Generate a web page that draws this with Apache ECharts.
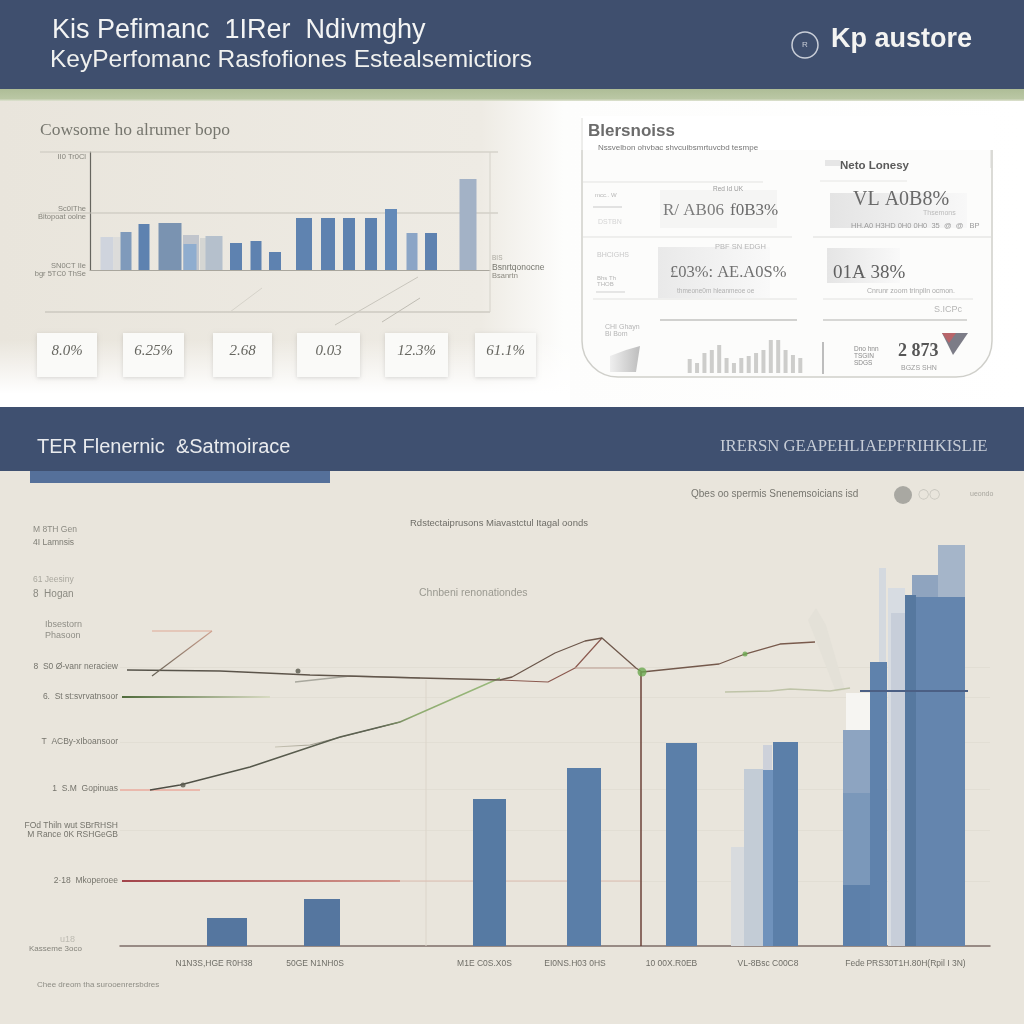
<!DOCTYPE html>
<html>
<head>
<meta charset="utf-8">
<title>KPI dashboard</title>
<script src="https://cdn.jsdelivr.net/npm/echarts@6/dist/echarts.min.js"></script>
<style>
  html, body { margin: 0; padding: 0; background: #e9e5dc; }
  #chart { width: 1024px; height: 1024px; }
</style>
</head>
<body>
<div id="chart"></div>
<script>
// upper left bars
const upperPeriods = [1.7, 2.7, 3.6, 5.4, 8.0, 10.1, 10.0, 11.3, 12.4, 14.6, 16.6, 18.5, 21.4, 23.8, 25.9, 28.1, 30.1, 32.2, 34.1, 37.8];
const upperValues = [33, 33, 38, 46, 47, 35, 26, 32, 34, 27, 29, 18, 52, 52, 52, 52, 61, 37, 37, 91];
const upperSpans = [1.3, 0.7, 1.1, 1.1, 2.3, 1.6, 1.3, 0.6, 1.7, 1.2, 1.1, 1.2, 1.6, 1.4, 1.2, 1.2, 1.2, 1.1, 1.2, 1.7];
const upperTicks = [0, 57, 113];
const upperTickLabels = ['SN0CT IIe\nbgr 5TC0 ThSe', 'Sc0IThe\nBitopoat oolne', 'II0 Tr0Cl'];

// small bars inside the right panel
const miniValues = [14, 10, 20, 23, 28, 15, 10, 15, 17, 20, 23, 33, 37, 23, 18, 15];
const miniCategories = miniValues.map((v, i) => 'm' + i);

// lower chart bars, drawn back to front
const lowerPeriods = [10.7, 20.2, 36.95, 46.4, 56.15, 61.8, 63.35, 64.75, 64.8, 66.55, 76.25, 77.65, 77.8, 75.85, 73.65, 73.65, 73.65, 80.5, 83.15, 79.05, 82.05];
const lowerValues = [28, 47, 147, 178, 203, 99, 177, 201, 176, 204, 378, 358, 333, 284, 216, 153, 61, 371, 401, 351, 349];
const lowerSpans = [4.0, 3.6, 3.3, 3.4, 3.1, 1.4, 1.9, 0.9, 1.0, 2.5, 0.7, 1.7, 1.4, 1.7, 2.7, 2.7, 2.7, 2.6, 2.7, 1.1, 4.9];
const lowerTicks = [279, 249, 204, 157, 116, 65];
const lowerTickLabels = ['8  S0 Ø-vanr neraciew', '6.  St st:svrvatnsoor', 'T  ACBy-xIboansoor', '1  S.M  Gopinuas', 'FOd Thiln wut SBrRHSH\nM Rance 0K RSHGeGB', '2·18  Mkoperoee'];
const lowerLabelSpots = [9.4, 19.5, 36.45, 45.5, 55.15, 64.8, 73.5, 79.6];
const lowerCategories = ['N1N3S,HGE R0H38', '50GE N1NH0S', 'M1E C0S.X0S', 'EI0NS.H03 0HS', '10 00X.R0EB', 'VL-8Bsc C00C8', 'Fede', 'PRS30T1H.80H(Rpil I 3N)'];

// lower chart lines
const mainLineX = [0.7, 10, 19, 30, 38, 39.2, 43.5, 46.5, 48.2, 51.6, 52.2, 59.9, 62.5, 66, 69.5];
const mainLineY = [276, 275, 271, 268, 266, 269, 293, 305, 308, 278, 274, 282, 292, 302, 304];
const riseLineX = [3, 6, 13, 22, 28, 30.5, 38];
const riseLineY = [156, 161, 179, 209, 224, 235, 268];
const dipLineX = [38, 42.8, 45.5, 48.2];
const dipLineY = [266, 264, 278, 308];
const shelfLineX = [45.5, 51.6];
const shelfLineY = [278, 278];
const branchLineX = [15.5, 19, 22.5, 28];
const branchLineY = [199, 201, 210, 224];
const echoLineX = [17.5, 23, 30];
const echoLineY = [264, 270, 268];
const spikeLineX = [3.2, 9.2];
const spikeLineY = [270, 315];
const capLineX = [3.2, 9.2];
const capLineY = [315, 315];
const greenRuleX = [0.2, 15];
const greenRuleY = [249, 249];
const redRuleX = [0.2, 28];
const redRuleY = [65, 65];
const redFaintX = [28, 52];
const redFaintY = [65, 65];
const pinkRuleX = [0, 8];
const pinkRuleY = [156, 156];
const noiseLineX = [60.5, 65, 67, 71, 73];
const noiseLineY = [254, 255, 257, 255, 258];
const blueRuleX = [74, 84.8];
const blueRuleY = [255, 255];
const dropLineX = [52.1, 52.1];
const dropLineY = [274, 0];
const guideLineX = [30.6, 30.6];
const guideLineY = [266, 0];
const markerX = [52.2, 62.5, 6.3, 17.8];
const markerY = [274, 292, 161, 275];

const kpiValues = ['8.0%', '6.25%', '2.68', '0.03', '12.3%', '61.1%'];

const upperFills = ['#cfd4dd', '#dcdcda', '#7f9abb', '#5e82b0', '#7a93b1', '#c1c5cc', '#8fadcf', '#d5d6d3', '#b5c0cc', '#5e82b0', '#5e82b0', '#5e82b0', '#5f83b0', '#5e82b0', '#5e82b0', '#5e82b0', '#648ab8', '#8ba5c6', '#5e82b0', '#a3b2c6'];
const lowerFills = ['#55769f', '#55769f', '#567aa3', '#5a7ea8', '#5b7fa9', '#d8dbde', '#c3ccd6', '#cdd1da', '#6f92bc', '#5b7fa9', '#d4d9df', '#d7dce2', '#c7ced9', '#5f82ac', '#8da4c1', '#7b98ba', '#5d80aa', '#8fa4bf', '#a5b5c9', '#56789f', '#6485ae'];

function spanBars(name, axisIndex, xs, values, spans, fills) {
  return {
    name: name,
    type: 'custom',
    xAxisIndex: axisIndex,
    yAxisIndex: axisIndex,
    z: 2,
    data: xs.map((x, i) => [x, values[i], spans[i]]),
    encode: { x: 0, y: 1 },
    renderItem: function (params, api) {
      const half = api.value(2) / 2;
      const a = api.coord([api.value(0) - half, api.value(1)]);
      const b = api.coord([api.value(0) + half, 0]);
      return {
        type: 'rect',
        shape: { x: a[0], y: a[1], width: b[0] - a[0], height: b[1] - a[1] },
        style: { fill: fills[params.dataIndex] }
      };
    }
  };
}

function plotLine(xs, ys, color, width, z) {
  return {
    type: 'line',
    xAxisIndex: 2,
    yAxisIndex: 2,
    data: xs.map((x, i) => [x, ys[i]]),
    showSymbol: false,
    silent: true,
    z: z || 4,
    lineStyle: { color: color, width: width }
  };
}

function fade(from, to) {
  return new echarts.graphic.LinearGradient(0, 0, 1, 0, [
    { offset: 0, color: from },
    { offset: 1, color: to }
  ]);
}

const riseFill = new echarts.graphic.LinearGradient(0, 0, 1, 0, [
  { offset: 0, color: '#4d4c44' },
  { offset: 0.65, color: '#5e6452' },
  { offset: 0.75, color: '#8fab70' },
  { offset: 1, color: '#9abb7c' }
]);

// page furniture
const box = (x, y, w, h, fill, extra) => Object.assign({ type: 'rect', shape: { x: x, y: y, width: w, height: h }, style: { fill: fill }, z: 0 }, extra || {});
const rule = (x1, y1, x2, y2, color, w) => ({ type: 'line', shape: { x1: x1, y1: y1, x2: x2, y2: y2 }, style: { stroke: color, lineWidth: w || 1 }, z: 1 });
const label = (x, y, text, size, color, extra) => ({
  type: 'text', x: x, y: y, z: 20,
  style: Object.assign({ text: text, fontSize: size, fill: color, fontFamily: 'Liberation Sans', verticalAlign: 'middle' }, extra || {})
});

const graphics = [
  box(0, 0, 1024, 1024, '#e9e5dc'),
  box(0, 101, 1024, 306, new echarts.graphic.LinearGradient(0, 0, 1, 0, [
    { offset: 0, color: '#e9e5dc' },
    { offset: 0.47, color: '#eeebe4' },
    { offset: 0.55, color: '#fdfdfc' },
    { offset: 1, color: '#ffffff' }
  ])),
  box(0, 340, 570, 67, new echarts.graphic.LinearGradient(0, 0, 0, 1, [
    { offset: 0, color: 'rgba(255,255,255,0)' },
    { offset: 0.8, color: 'rgba(255,255,255,1)' },
    { offset: 1, color: 'rgba(255,255,255,1)' }
  ])),
  box(0, 0, 1024, 89, '#3f4f6e'),
  box(0, 89, 1024, 12, new echarts.graphic.LinearGradient(0, 0, 0, 1, [
    { offset: 0, color: '#aebd97' },
    { offset: 0.8, color: '#bac7a4' },
    { offset: 1, color: '#dfe3d2' }
  ])),
  box(0, 407, 1024, 64, '#3f5070'),
  box(30, 471, 300, 12, '#55709a'),

  // header
  label(52, 31, 'Kis Pefimanc  1IRer  Ndivmghy', 27, '#f3f4f4'),
  label(50, 60, 'KeyPerfomanc Rasfofiones Estealsemictiors', 24.5, '#f0f1ef'),
  { type: 'circle', shape: { cx: 805, cy: 45, r: 13 }, style: { fill: 'none', stroke: '#c9ced8', lineWidth: 1.5 }, z: 5 },
  label(805, 45, 'R', 8, '#c9ced8', { textAlign: 'center' }),
  label(831, 40, 'Kp austore', 27, '#f4f4f2', { fontWeight: 'bold' }),

  // upper left frame
  label(40, 130, 'Cowsome ho alrumer bopo', 17.5, '#77776f', { fontFamily: 'Liberation Serif' }),
  rule(40, 152, 498, 152, '#c9c6bd'),
  rule(40, 213, 498, 213, '#c5c2b9'),
  rule(45, 312, 490, 312, '#bdbab1'),
  rule(490, 152, 490, 312, '#d5d2ca'),
  rule(230, 312, 262, 288, '#d6d3ca'),
  rule(335, 325, 418, 277, '#c9c6bd'),
  rule(382, 322, 420, 298, '#bfbcb3'),
  label(492, 268, 'Bsnrtqonocne', 8.5, '#77776f'),
  label(492, 258, 'BIS', 6.5, '#aaa89f'),
  label(492, 276, 'Bsanrtn', 7.5, '#8b8980'),

  // right panel
  box(582, 118, 410, 259, '#fcfcfb', { shape: { x: 582, y: 118, width: 410, height: 259, r: [0, 0, 36, 36] }, style: { fill: '#fcfcfb', stroke: '#cfcfca', lineWidth: 1.5 } }),
  box(581, 116, 412, 34, '#ffffff'),
  rule(582, 118, 582, 152, '#dcdcd8'),
  rule(991, 150, 991, 168, '#d9d9d5'),
  label(588, 131, 'Blersnoiss', 17, '#6c6c6c', { fontWeight: 'bold' }),
  label(598, 148, 'Nssvelbon ohvbac shvcuibsmrtuvcbd tesmpe', 8, '#777777'),
  box(825, 160, 15, 6, '#e6e6e6', { z: 2 }),
  label(840, 166, 'Neto Lonesy', 11.5, '#5a5a5a', { fontWeight: 'bold' }),
  rule(583, 182, 763, 182, '#e3e3e1'),
  rule(820, 181, 907, 181, '#e6e6e4'),
  rule(583, 237, 792, 237, '#e1e1df'),
  rule(813, 237, 992, 237, '#dcdcda'),
  rule(593, 299, 797, 299, '#e2e2e0'),
  rule(823, 299, 973, 299, '#e2e2e0'),
  rule(660, 320, 797, 320, '#c3c3c1', 1.5),
  rule(823, 320, 967, 320, '#cbcbc9', 1.5),
  box(660, 190, 117, 38, 'rgba(240,240,240,0.6)', { z: 2 }),
  box(830, 193, 137, 35, fade('#e4e4e4', '#f8f8f8'), { z: 2 }),
  box(658, 247, 112, 51, fade('#e9e9e9', '#f9f9f9'), { z: 2 }),
  box(827, 248, 73, 35, fade('#e5e5e5', '#f9f9f9'), { z: 2 }),
  label(713, 189, 'Red Id UK', 6.5, '#9a9a9a'),
  label(663, 211, 'R/ AB06', 17, '#7c7c7c', { fontFamily: 'Liberation Serif' }),
  label(730, 211, 'f0B3%', 17, '#6a6a6a', { fontFamily: 'Liberation Serif' }),
  label(853, 200, 'VL A0B8%', 20, '#6a6a6a', { fontFamily: 'Liberation Serif' }),
  label(923, 213, 'Thsemons', 7, '#bbbbbb'),
  label(851, 226, 'HH.A0 H3HD 0H0 0H0  35  @  @   BP', 7.5, '#9a9a9a'),
  label(715, 247, 'PBF SN EDGH', 7.5, '#b5b5b5'),
  label(670, 273, '£03%: AE.A0S%', 16.5, '#707070', { fontFamily: 'Liberation Serif' }),
  label(677, 291, 'thmeone0m hleanmeoe oe', 6.5, '#b0b0b0'),
  label(833, 273, '01A 38%', 19, '#606060', { fontFamily: 'Liberation Serif' }),
  label(867, 291, 'Cnrunr zoom trinplln ocmon.', 7, '#aaaaaa'),
  label(934, 310, 'S.ICPc', 9, '#b5b5b5'),
  label(595, 195, 'mcc.. W', 6, '#b5b5b5'),
  rule(593, 207, 622, 207, '#c8c8c8'),
  label(598, 222, 'DSTBN', 7, '#d5d5d5'),
  label(597, 255, 'BHCIGHS', 7, '#c8c8c8'),
  label(597, 281, 'Bhs Th\nTHOB', 6, '#b5b5b5'),
  rule(596, 292, 625, 292, '#cfcfcf'),
  label(605, 331, 'CHI Ghayn\nBi Bom', 7, '#b5b5b5'),
  { type: 'polygon', shape: { points: [[610, 372], [610, 356], [626, 350], [640, 346], [636, 372]] }, style: { fill: new echarts.graphic.LinearGradient(0, 0, 1, 0, [{ offset: 0, color: '#efefef' }, { offset: 1, color: '#bdbdbd' }]) }, z: 2 },
  rule(823, 342, 823, 374, '#a8a8a8', 1.5),
  label(854, 356, 'Dno hnn\nTSGIN\nSDGS', 6.5, '#8a8a8a'),
  label(898, 351, '2 873', 18, '#565656', { fontFamily: 'Liberation Serif', fontWeight: 'bold' }),
  label(901, 368, 'BGZS SHN', 7, '#9a9a9a'),
  { type: 'polygon', shape: { points: [[942, 333], [968, 333], [953, 355]] }, style: { fill: '#7c7c87' }, z: 3 },
  { type: 'polygon', shape: { points: [[942, 333], [956, 333], [949, 343]] }, style: { fill: '#b8656a' }, z: 3 },

  // band two
  label(37, 447, 'TER Flenernic  &Satmoirace', 20, '#e9ebee'),
  label(720, 447, 'IRERSN GEAPEHLIAEPFRIHKISLIE', 16.7, '#c6ccd6', { fontFamily: 'Liberation Serif' }),

  // lower chart captions
  label(691, 494, 'Qbes oo spermis Snenemsoicians isd', 10, '#77766f'),
  { type: 'circle', shape: { cx: 903, cy: 495, r: 9 }, style: { fill: '#a9a8a2' }, z: 3 },
  label(918, 494, '\u25ef\u25ef', 10, '#c2c0b8'),
  label(970, 494, 'ueondo', 7, '#a8a69e'),
  label(410, 523, 'Rdstectaiprusons Miavastctul Itagal oonds', 9.5, '#6e6d67'),
  label(419, 593, 'Chnbeni renonationdes', 10.5, '#9a9990'),
  label(33, 530, 'M 8TH Gen', 8.5, '#8b8a82'),
  label(33, 543, '4I Lamnsis', 8.5, '#7d7c74'),
  label(33, 580, '61 Jeesiny', 8.5, '#a9a79e'),
  label(33, 594, '8  Hogan', 10, '#8b8a82'),
  label(45, 625, 'Ibsestorn', 9, '#8f8e86'),
  label(45, 636, 'Phasoon', 9, '#8f8e86'),
  label(60, 940, 'u18', 9, '#bdbbb2'),
  label(29, 949, 'Kasseme 3oco', 8, '#85847c'),
  label(37, 985, 'Chee dreom tha surooenrersbdres', 8, '#8e8d85'),

  // white patch and pale smear behind the tall bars
  box(846, 693, 24, 38, '#f6f5f2', { z: 1 }),
  { type: 'polygon', shape: { points: [[808, 620], [816, 608], [826, 625], [845, 690], [836, 692]] }, style: { fill: '#e4e1d8' }, z: 1 }
];

// six kpi cards
const cardLeft = [37, 123, 213, 297, 385, 475];
const cardWide = [60, 61, 59, 63, 63, 61];
kpiValues.forEach((v, i) => {
  graphics.push(box(cardLeft[i], 333, cardWide[i], 44, '#fafaf8', { style: { fill: '#fafaf8', shadowBlur: 4, shadowColor: 'rgba(0,0,0,0.14)', shadowOffsetY: 1 }, z: 2 }));
  graphics.push(label(cardLeft[i] + cardWide[i] / 2, 351, v, 15, '#666660', { textAlign: 'center', fontFamily: 'Liberation Serif', fontStyle: 'italic' }));
  graphics.push(rule(cardLeft[i] + 12, 370, cardLeft[i] + cardWide[i] - 12, 370, '#e1e0dc', 2));
});

const option = {
  animation: false,
  backgroundColor: '#e9e5dc',
  textStyle: { fontFamily: 'Liberation Sans' },
  graphic: { elements: graphics },
  grid: [
    { left: 90, top: 152, width: 400, height: 118 },
    { left: 686, top: 340, width: 118, height: 33 },
    { left: 120, top: 536, width: 870, height: 410 }
  ],
  xAxis: [
    { type: 'value', gridIndex: 0, min: 0, max: 40, axisLine: { onZero: false, lineStyle: { color: '#a9a69d' } }, axisTick: { show: false }, axisLabel: { show: false }, splitLine: { show: false } },
    { type: 'category', gridIndex: 1, data: miniCategories, axisLine: { show: false }, axisTick: { show: false }, axisLabel: { show: false } },
    {
      type: 'value', gridIndex: 2, min: 0, max: 87,
      axisLine: { onZero: false, lineStyle: { color: '#7d6d68', width: 1.5 } },
      axisTick: { show: false },
      splitLine: { show: false },
      axisLabel: {
        customValues: lowerLabelSpots,
        margin: 13,
        fontSize: 8.5,
        color: '#6f6e67',
        formatter: function (value) {
          return lowerCategories[lowerLabelSpots.indexOf(value)] || '';
        }
      }
    }
  ],
  yAxis: [
    {
      type: 'value', gridIndex: 0, min: 0, max: 118,
      axisLine: { show: true, lineStyle: { color: '#66655f', width: 1.2 } },
      axisTick: { show: false, customValues: upperTicks },
      splitLine: { show: false },
      axisLabel: {
        customValues: upperTicks,
        margin: 4,
        fontSize: 7.5,
        color: '#85847c',
        formatter: function (value) { return upperTickLabels[upperTicks.indexOf(value)] || ''; }
      }
    },
    { type: 'value', gridIndex: 1, min: 0, max: 33, axisLine: { show: false }, axisTick: { show: false }, axisLabel: { show: false }, splitLine: { show: false } },
    {
      type: 'value', gridIndex: 2, min: 0, max: 410,
      axisLine: { show: false },
      axisTick: { show: false, customValues: lowerTicks },
      splitLine: { show: true, lineStyle: { color: '#e2ded4', width: 1 } },
      axisLabel: {
        customValues: lowerTicks,
        margin: 2,
        fontSize: 8.5,
        color: '#75746c',
        formatter: function (value) { return lowerTickLabels[lowerTicks.indexOf(value)] || ''; }
      }
    }
  ],
  series: [
    spanBars('upper', 0, upperPeriods, upperValues, upperSpans, upperFills),
    { type: 'bar', xAxisIndex: 1, yAxisIndex: 1, data: miniValues, barWidth: 4, itemStyle: { color: '#cdcdcb' } },
    spanBars('lower', 2, lowerPeriods, lowerValues, lowerSpans, lowerFills),
    plotLine(guideLineX, guideLineY, '#dcd5ca', 1, 1),
    plotLine(redFaintX, redFaintY, '#dcbcb0', 1, 1),
    plotLine(pinkRuleX, pinkRuleY, '#eab9ad', 2, 3),
    plotLine(greenRuleX, greenRuleY, fade('#4e6a3a', '#dadcc4'), 2),
    plotLine(redRuleX, redRuleY, fade('#a2434a', '#d49a8f'), 2),
    plotLine(echoLineX, echoLineY, '#a8a79d', 1.5),
    plotLine(branchLineX, branchLineY, fade('#c9c5b5', '#55544a'), 1.2),
    plotLine(riseLineX, riseLineY, riseFill, 1.4),
    plotLine(dipLineX, dipLineY, '#8c5a50', 1.2),
    plotLine(shelfLineX, shelfLineY, '#b99a8e', 1),
    plotLine(mainLineX, mainLineY, fade('#55534a', '#7a5a4c'), 1.3),
    plotLine(capLineX, capLineY, '#dfa995', 1.2),
    plotLine(spikeLineX, spikeLineY, fade('#5f5c50', '#d3a592'), 1.2),
    plotLine(noiseLineX, noiseLineY, '#bfc4a8', 1.5),
    plotLine(blueRuleX, blueRuleY, '#4b5f84', 2),
    plotLine(dropLineX, dropLineY, '#6b4038', 1.5),
    {
      type: 'scatter',
      xAxisIndex: 2,
      yAxisIndex: 2,
      z: 6,
      symbolSize: function (value, params) { return params.dataIndex === 0 ? 9 : 5; },
      itemStyle: {
        color: function (params) { return params.dataIndex < 2 ? '#6aa84f' : '#5a5a4e'; }
      },
      data: markerX.map((x, i) => [x, markerY[i]])
    }
  ]
};

const chart = echarts.init(document.getElementById('chart'));
chart.setOption(option);
</script>
</body>
</html>
